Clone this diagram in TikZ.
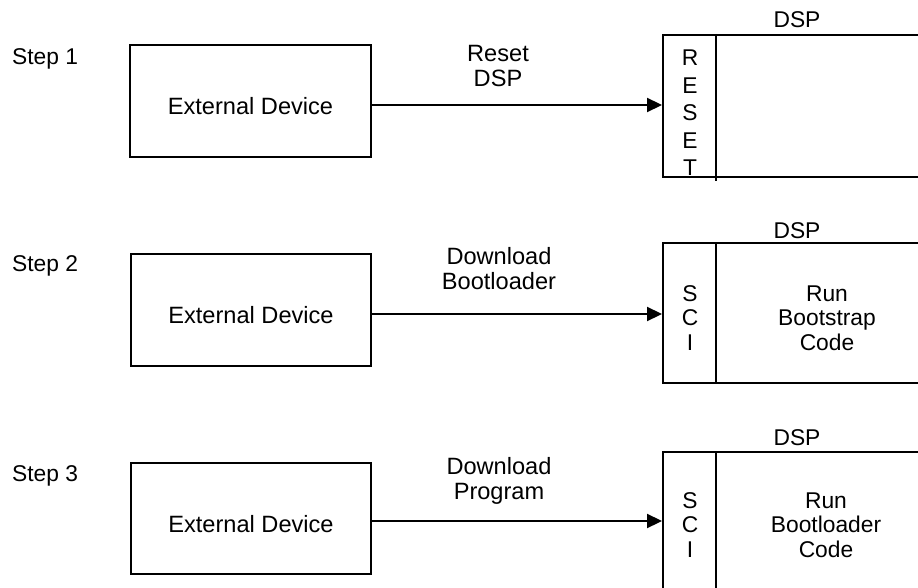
\documentclass[tikz,border=0pt]{standalone}
\usepackage{fontspec}
\setmainfont{Liberation Sans}
\usetikzlibrary{arrows.meta}
\begin{document}
\begin{tikzpicture}[x=1pt,y=-1pt,
  lbl/.style={font=\fontsize{22.8}{24.5}\selectfont, inner sep=0pt, anchor=base},
  biglbl/.style={lbl, align=center, font=\fontsize{23.6}{25}\selectfont},
  stack/.style={lbl, align=center, font=\fontsize{22.8}{27.5}\selectfont},
  box/.style={draw, line width=2pt, inner sep=0pt},
  wall/.style={line width=2pt},
  conn/.style={line width=2.2pt, -{Triangle[length=15pt,width=14pt]}}]
\useasboundingbox (0,0) rectangle (918,588);
\clip (0,0) rectangle (918,588);

% step captions
\node[lbl, anchor=base west] (s1) at (12,65) {Step 1};
\node[lbl, anchor=base west] (s2) at (12,271) {Step 2};
\node[lbl, anchor=base west] (s3) at (12,481) {Step 3};

% external devices
\node[box, minimum width=241pt, minimum height=112pt] (ext1) at (250.5,101) {};
\node[box, minimum width=240pt, minimum height=112pt] (ext2) at (251,310) {};
\node[box, minimum width=240pt, minimum height=111pt] (ext3) at (251,518.5) {};
\node[biglbl] (et1) at (250.5,115) {External Device};
\node[biglbl] (et2) at (251,323) {External Device};
\node[biglbl] (et3) at (251,532) {External Device};

% DSP blocks (running past the right and bottom edges)
\node[box, minimum width=272pt, minimum height=142pt] (dsp1) at (799,106) {};
\node[box, minimum width=272pt, minimum height=140pt] (dsp2) at (799,313) {};
\node[box, minimum width=272pt, minimum height=148pt] (dsp3) at (799,526) {};
\draw[wall] ([xshift=54pt]dsp1.north west) -- ([xshift=54pt,yshift=-3pt]dsp1.south west);
\draw[wall] ([xshift=54pt]dsp2.north west) -- ([xshift=54pt]dsp2.south west);
\draw[wall] ([xshift=54pt]dsp3.north west) -- ([xshift=54pt]dsp3.south west);

\node[lbl] (dl1) at (797,28) {DSP};
\node[lbl] (dl2) at (797,238) {DSP};
\node[lbl] (dl3) at (797,445) {DSP};

% port letters and inner text (anchored on the last line)
\node[stack] (port1) at (690,176) {R\\E\\S\\E\\T};
\node[stack, font=\fontsize{22.8}{24.5}\selectfont] (port2) at (690,350) {S\\C\\I};
\node[stack, font=\fontsize{22.8}{24.5}\selectfont] (port3) at (690,557) {S\\C\\I};
\node[lbl, align=center] (run2) at (827,350) {Run\\Bootstrap\\Code};
\node[lbl, align=center] (run3) at (826,557) {Run\\Bootloader\\Code};

% transfers
\draw[conn] ([yshift=-4pt]ext1.east) -- ([yshift=-4pt]ext1.east -| dsp1.west);
\draw[conn] ([yshift=-4pt]ext2.east) -- ([yshift=-4pt]ext2.east -| dsp2.west);
\draw[conn] ([yshift=-2.5pt]ext3.east) -- ([yshift=-2.5pt]ext3.east -| dsp3.west);

\node[biglbl] (msg1) at (498,87) {Reset\\DSP};
\node[biglbl] (msg2) at (499,289) {Download\\Bootloader};
\node[biglbl] (msg3) at (499,499) {Download\\Program};
\end{tikzpicture}
\end{document}
